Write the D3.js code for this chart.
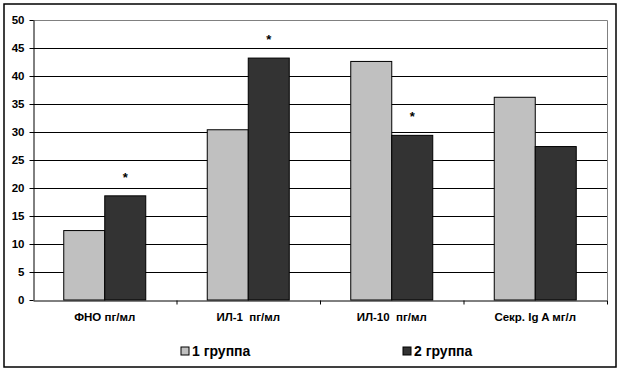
<!DOCTYPE html>
<html>
<head>
<meta charset="utf-8">
<script src="https://d3js.org/d3.v7.min.js"></script>
<style>
  body { margin: 0; background: #fff; }
  svg { display: block; font-family: "Liberation Sans", Arial, sans-serif; }
</style>
</head>
<body>
<div id="chart"></div>
<script>
// data
const categories = ['ФНО пг/мл', 'ИЛ-1  пг/мл', 'ИЛ-10  пг/мл', 'Секр. Ig A мг/л'];
const groups = ['1 группа', '2 группа'];
const group1 = [12.4, 30.4, 42.6, 36.2];
const group2 = [18.6, 43.2, 29.4, 27.4];
const starred = [true, true, true, false]; // asterisk over group 2
const yTicks = [0, 5, 10, 15, 20, 25, 30, 35, 40, 45, 50];

const W = 624, H = 373;
const plot = { left: 33, right: 607, top: 20, bottom: 300 };
const colors = ['#c0c0c0', '#333333'];

const svg = d3.select('#chart').append('svg')
  .attr('width', W).attr('height', H);

// outer frame
svg.append('rect')
  .attr('x', 4).attr('y', 4).attr('width', 612).attr('height', 363)
  .attr('fill', 'none').attr('stroke', '#000').attr('stroke-width', 1.5);

const x0 = d3.scaleBand().domain(categories).range([plot.left, plot.right]);
const x1 = d3.scaleBand().domain(groups).range([0, x0.bandwidth()]).paddingOuter(0.75);
const y = d3.scaleLinear().domain([0, 50]).range([plot.bottom, plot.top]);

// gridlines
svg.append('g')
  .selectAll('line')
  .data(yTicks.filter(t => t > 0 && t < 50))
  .join('line')
  .attr('x1', plot.left).attr('x2', plot.right)
  .attr('y1', d => y(d) + 0.5).attr('y2', d => y(d) + 0.5)
  .attr('stroke', '#000').attr('stroke-width', 1);

// plot area border (grey top/right)
svg.append('path')
  .attr('d', `M${plot.left},${y(50) + 0.5}H${plot.right + 0.5}V${plot.bottom}`)
  .attr('fill', 'none').attr('stroke', '#808080').attr('stroke-width', 1);

// bars
const rows = categories.map((c, i) => ({ cat: c, vals: [group1[i], group2[i]], star: starred[i] }));
const cg = svg.append('g').selectAll('g')
  .data(rows)
  .join('g')
  .attr('transform', d => 'translate(' + x0(d.cat) + ',0)');

cg.selectAll('rect')
  .data(d => d.vals.map((v, j) => ({ g: groups[j], v: v, j: j })))
  .join('rect')
  .attr('x', d => x1(d.g))
  .attr('y', d => y(d.v))
  .attr('width', x1.bandwidth())
  .attr('height', d => y(0) - y(d.v))
  .attr('fill', d => colors[d.j])
  .attr('stroke', '#000').attr('stroke-width', 1);

// asterisks
cg.filter(d => d.star)
  .append('text')
  .attr('x', x1(groups[1]) + x1.bandwidth() / 2)
  .attr('y', d => y(d.vals[1]) - 14)
  .attr('text-anchor', 'middle')
  .attr('font-size', 13)
  .attr('font-weight', 'bold')
  .text('*');

// y axis
const yAxis = svg.append('g')
  .attr('transform', 'translate(' + (plot.left + 0.5) + ',0)')
  .call(d3.axisLeft(y).tickValues(yTicks).tickSize(4).tickSizeOuter(0).tickPadding(5));
yAxis.select('.domain').attr('stroke', '#000');
yAxis.selectAll('.tick line').attr('stroke', '#000');
yAxis.selectAll('text')
  .attr('font-size', 11.5).attr('font-weight', 'bold')
  .attr('font-family', '"Liberation Sans", Arial, sans-serif').attr('fill', '#000');

// x axis
const xAxis = svg.append('g')
  .attr('transform', 'translate(0,' + (plot.bottom + 0.5) + ')')
  .call(d3.axisBottom(x0).tickSize(0).tickPadding(12));
xAxis.select('.domain').attr('stroke', '#000');
xAxis.selectAll('text')
  .attr('font-size', 11.5).attr('font-weight', 'bold')
  .attr('font-family', '"Liberation Sans", Arial, sans-serif').attr('fill', '#000')
  .style('white-space', 'pre');
// category boundary ticks
xAxis.append('g').selectAll('line')
  .data(categories.slice(1).map(c => x0(c)).concat([plot.right]))
  .join('line')
  .attr('x1', d => d + 0.5).attr('x2', d => d + 0.5)
  .attr('y1', 0).attr('y2', 4)
  .attr('stroke', '#000');

// legend
const legendX = [181, 403];
const lg = svg.append('g').selectAll('g')
  .data(groups)
  .join('g')
  .attr('transform', (d, i) => 'translate(' + legendX[i] + ',347)');
lg.append('rect')
  .attr('width', 8).attr('height', 8)
  .attr('fill', (d, i) => colors[i])
  .attr('stroke', '#000').attr('stroke-width', 1);
lg.append('text')
  .attr('x', 11).attr('y', 9)
  .attr('font-size', 14).attr('font-weight', 'bold')
  .text(d => d);
</script>
</body>
</html>
